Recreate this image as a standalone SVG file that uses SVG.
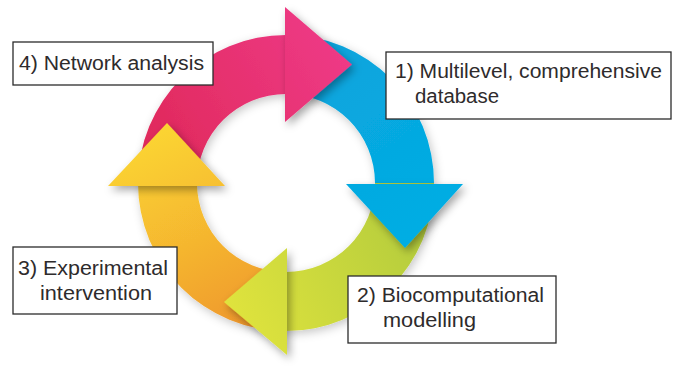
<svg xmlns="http://www.w3.org/2000/svg" width="678" height="366" viewBox="0 0 678 366">
<style>
.box{fill:#fff;stroke:#2b2b2b;stroke-width:1.3}
.lbl{font-family:"Liberation Sans","DejaVu Sans",sans-serif;font-size:20px;fill:#2e2b2c}
</style>
<defs>
<filter id="sh" x="-30%" y="-30%" width="160%" height="160%">
<feDropShadow dx="3" dy="4" stdDeviation="4" flood-color="#000" flood-opacity="0.35"/>
</filter>
<filter id="shr" x="-30%" y="-30%" width="160%" height="160%">
<feDropShadow dx="2" dy="3" stdDeviation="5" flood-color="#000" flood-opacity="0.22"/>
</filter>
<linearGradient id="gPink" gradientUnits="userSpaceOnUse" x1="150" y1="180" x2="350" y2="60">
<stop offset="0" stop-color="#df2858"/><stop offset="1" stop-color="#ee3a86"/>
</linearGradient>
<linearGradient id="gBlue" gradientUnits="userSpaceOnUse" x1="300" y1="40" x2="440" y2="240">
<stop offset="0" stop-color="#0aa3dc"/><stop offset="1" stop-color="#03aee4"/>
</linearGradient>
<linearGradient id="gGreen" gradientUnits="userSpaceOnUse" x1="430" y1="200" x2="225" y2="300">
<stop offset="0" stop-color="#b0ca3c"/><stop offset="1" stop-color="#dfe33c"/>
</linearGradient>
<linearGradient id="gYellow" gradientUnits="userSpaceOnUse" x1="170" y1="125" x2="275" y2="330">
<stop offset="0" stop-color="#fbd432"/><stop offset="0.5" stop-color="#f5b62f"/><stop offset="1" stop-color="#ee932c"/>
</linearGradient>
</defs>
<rect width="678" height="366" fill="#fff"/>
<g id="connectors">
<g id="bodies" filter="url(#shr)">
<path fill="url(#gPink)" d="M138,183 A148,148 0 0 1 286,35 L286,94 A89,89 0 0 0 197,183 Z"/>
<path fill="url(#gBlue)" d="M286,35 A148,148 0 0 1 434,183 L375,183 A89,89 0 0 0 286,94 Z"/>
<path fill="url(#gGreen)" d="M434,183 A148,148 0 0 1 286,331 L286,272 A89,89 0 0 0 375,183 Z"/>
<path fill="url(#gYellow)" d="M286,331 A148,148 0 0 1 138,183 L197,183 A89,89 0 0 0 286,272 Z"/>
</g>
<g id="heads" filter="url(#sh)">
<path fill="url(#gPink)" d="M285,7 L352,64.5 L285,122 Z"/>
<path fill="url(#gBlue)" d="M346,184 L463,184 L405,248 Z"/>
<path fill="url(#gGreen)" d="M287,248 L224,302 L287,355 Z"/>
<path fill="url(#gYellow)" d="M108,186 L167,123 L225,186 Z"/>
</g>
</g>
<g id="node4">
<rect class="box" x="13" y="42" width="200" height="43"/>
<text class="lbl" x="19" y="70" textLength="185" lengthAdjust="spacingAndGlyphs">4) Network analysis</text>
</g>
<g id="node1">
<rect class="box" x="386" y="52" width="285" height="67"/>
<text class="lbl" x="395" y="78" textLength="267" lengthAdjust="spacingAndGlyphs">1) Multilevel, comprehensive</text>
<text class="lbl" x="415" y="103" textLength="84" lengthAdjust="spacingAndGlyphs">database</text>
</g>
<g id="node2">
<rect class="box" x="348" y="276" width="208" height="67"/>
<text class="lbl" x="357" y="302" textLength="187" lengthAdjust="spacingAndGlyphs">2) Biocomputational</text>
<text class="lbl" x="383" y="327" textLength="93" lengthAdjust="spacingAndGlyphs">modelling</text>
</g>
<g id="node3">
<rect class="box" x="13" y="247" width="164" height="67"/>
<text class="lbl" x="18" y="275" textLength="150" lengthAdjust="spacingAndGlyphs">3) Experimental</text>
<text class="lbl" x="40" y="300" textLength="112" lengthAdjust="spacingAndGlyphs">intervention</text>
</g>
</svg>
